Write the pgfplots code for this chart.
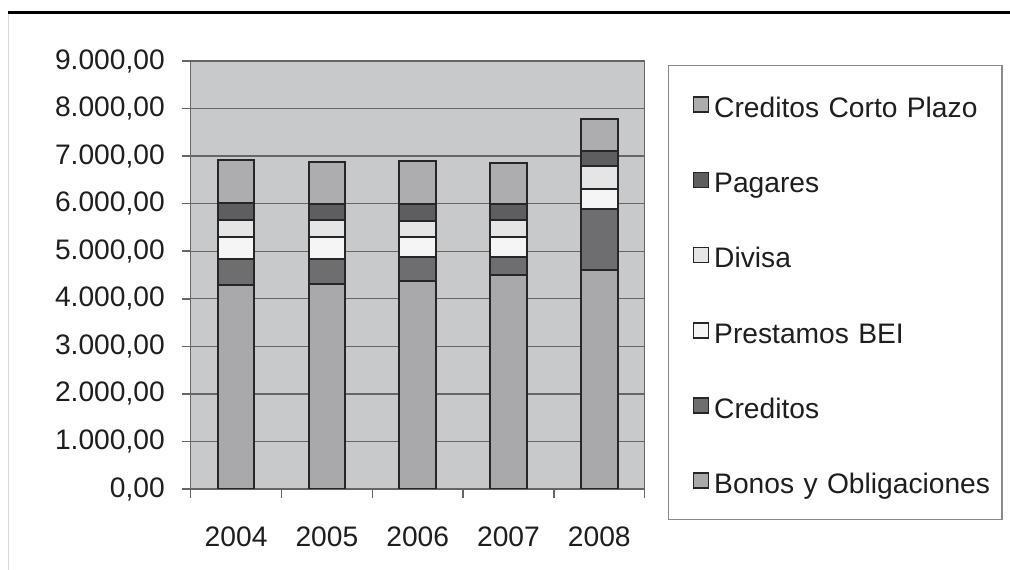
\documentclass[border=0pt]{standalone}
\usepackage{fontspec}
\setmainfont{Liberation Sans}
\usepackage{pgfplots}
\pgfplotsset{compat=1.18}
\definecolor{cBonos}{HTML}{A9A9AB}
\definecolor{cCred}{HTML}{6E6E70}
\definecolor{cBEI}{HTML}{F5F5F5}
\definecolor{cDiv}{HTML}{E4E5E7}
\definecolor{cPag}{HTML}{5E5E60}
\definecolor{cCCP}{HTML}{ADADB0}
\definecolor{plotbg}{HTML}{C8C9CB}
\definecolor{gridc}{HTML}{666666}
\definecolor{barline}{HTML}{262626}
\definecolor{textc}{HTML}{1E1E1E}
\definecolor{legc}{HTML}{8A8A8A}
\begin{document}
\begin{tikzpicture}
\path[use as bounding box] (0,0) rectangle (1010bp,570bp);
\fill[white] (0,0) rectangle (1010bp,570bp);
\draw[line width=2.5bp, black] (8bp,557.7bp) -- (1010bp,557.7bp);
\draw[line width=1bp, black!15] (8bp,556bp) -- (8bp,0bp);
\begin{axis}[
  at={(190.7bp,81bp)}, anchor=south west,
  scale only axis, width=454bp, height=428bp,
  ybar stacked, bar width=36.7bp,
  xmin=-0.5, xmax=4.5, ymin=0, ymax=9000,
  xtick={-0.5,0.5,1.5,2.5,3.5,4.5},
  xticklabels={2004,2005,2006,2007,2008,},
  ytick={0,1000,...,9000},
  yticklabels={{0,00},{1.000,00},{2.000,00},{3.000,00},{4.000,00},{5.000,00},{6.000,00},{7.000,00},{8.000,00},{9.000,00}},
  font=\fontsize{28.3}{34}\selectfont,
  xtick pos=bottom, ytick pos=left,
  tick align=outside, major tick length=9bp,
  tick style={color=gridc, line width=1.5bp},
  axis line style={color=gridc, line width=1.5bp},
  axis background/.style={fill=plotbg},
  ymajorgrids, major grid style={color=gridc, line width=1.3bp},
  xticklabel style={anchor=base, inner sep=0pt, xshift=45.4bp, yshift=-49bp, text=textc},
  yticklabel style={anchor=east, inner sep=0pt, xshift=-16.7bp, text=textc},
  every axis plot/.append style={draw=barline, line width=2bp,
    legend image code/.code={\path (0bp,0bp); \draw[##1, line width=1.6bp] (11.7bp,-7.5bp) rectangle (26.7bp,7.5bp);}},
  reverse legend,
  legend style={at={(1.0513,0.9907)}, anchor=north west, draw=legc, line width=1.5bp,
    fill=white, inner xsep=12bp, inner ysep=20bp, row sep=37.2bp, column sep=5bp,
    text=textc,
    nodes={inner sep=0pt, text height=31.7bp, text depth=6.3bp, text width=276bp, align=left},
    cells={anchor=west}},
]
\addplot[fill=cBonos] coordinates {(0,4300) (1,4320) (2,4370) (3,4510) (4,4600)};
\addplot[fill=cCred] coordinates {(0,530) (1,523) (2,503) (3,360) (4,1289)};
\addplot[fill=cBEI] coordinates {(0,467) (1,454) (2,424) (3,427) (4,411)};
\addplot[fill=cDiv] coordinates {(0,356) (1,356) (2,349) (3,370) (4,484)};
\addplot[fill=cPag] coordinates {(0,357) (1,337) (2,344) (3,323) (4,321)};
\addplot[fill=cCCP] coordinates {(0,905) (1,890) (2,904) (3,868) (4,677)};
\legend{Bonos y Obligaciones, Creditos, Prestamos BEI, Divisa, Pagares, Creditos Corto Plazo}
\end{axis}
\end{tikzpicture}
\end{document}
